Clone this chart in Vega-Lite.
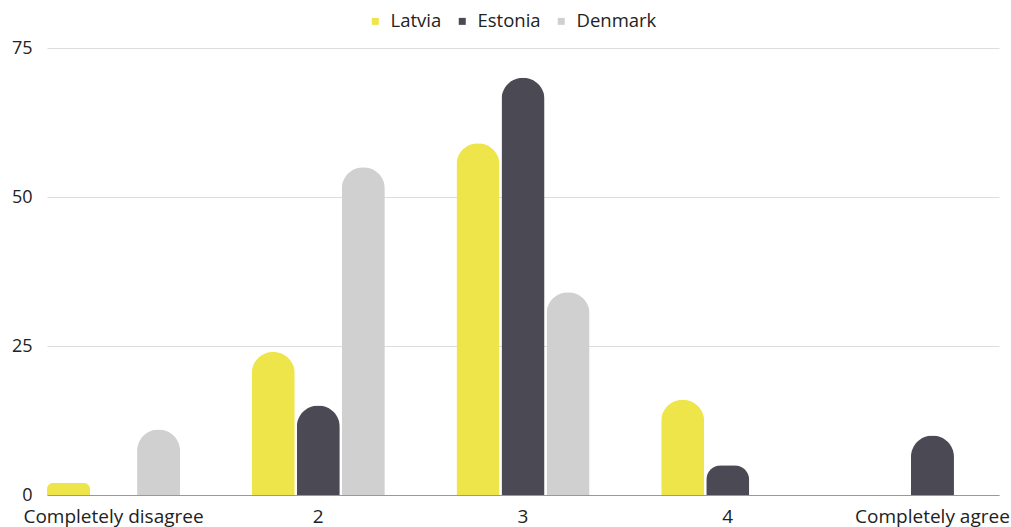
{
  "$schema": "https://vega.github.io/schema/vega-lite/v6.json",
  "width": 952,
  "height": 447,
  "autosize": {"type": "none"},
  "padding": {"left": 47, "top": 48, "right": 12, "bottom": 32},
  "background": "white",
  "config": {
    "font": "Open Sans",
    "view": {"stroke": null},
    "axis": {"labelFont": "Open Sans", "labelFontSize": 18, "labelColor": "#222222"},
    "legend": {"labelFont": "Open Sans", "labelFontSize": 18.5, "labelColor": "#222222"}
  },
  "data": {
    "values": [
      {"answer": "Completely disagree", "country": "Latvia", "value": 2},
      {"answer": "Completely disagree", "country": "Denmark", "value": 11},
      {"answer": "2", "country": "Latvia", "value": 24},
      {"answer": "2", "country": "Estonia", "value": 15},
      {"answer": "2", "country": "Denmark", "value": 55},
      {"answer": "3", "country": "Latvia", "value": 59},
      {"answer": "3", "country": "Estonia", "value": 70},
      {"answer": "3", "country": "Denmark", "value": 34},
      {"answer": "4", "country": "Latvia", "value": 16},
      {"answer": "4", "country": "Estonia", "value": 5},
      {"answer": "Completely agree", "country": "Estonia", "value": 10}
    ]
  },
  "mark": {"type": "bar", "cornerRadiusTopLeft": 22, "cornerRadiusTopRight": 22},
  "encoding": {
    "x": {
      "field": "answer",
      "type": "nominal",
      "sort": ["Completely disagree", "2", "3", "4", "Completely agree"],
      "scale": {"domain": ["Completely disagree", "2", "3", "4", "Completely agree"], "paddingInner": 0.35, "paddingOuter": 0},
      "axis": {"title": null, "labelAngle": 0, "ticks": false, "domainColor": "#999999", "labelPadding": 12, "labelFontSize": 19, "labelLimit": 400}
    },
    "xOffset": {
      "field": "country",
      "type": "nominal",
      "scale": {"domain": ["Latvia", "Estonia", "Denmark"], "paddingInner": 0.045, "paddingOuter": 0}
    },
    "y": {
      "field": "value",
      "type": "quantitative",
      "scale": {"domain": [0, 75]},
      "axis": {"title": null, "values": [0, 25, 50, 75], "ticks": false, "domain": false, "gridColor": "#DDDDDD", "labelPadding": 15}
    },
    "color": {
      "field": "country",
      "type": "nominal",
      "scale": {"domain": ["Latvia", "Estonia", "Denmark"], "range": ["#EEE54B", "#4B4A54", "#D0D0D0"]},
      "legend": {"title": null, "orient": "none", "direction": "horizontal", "legendX": 319, "legendY": -36, "symbolType": "square", "symbolSize": 49, "symbolStrokeWidth": 0, "labelOffset": 6, "columnPadding": 11}
    }
  }
}
